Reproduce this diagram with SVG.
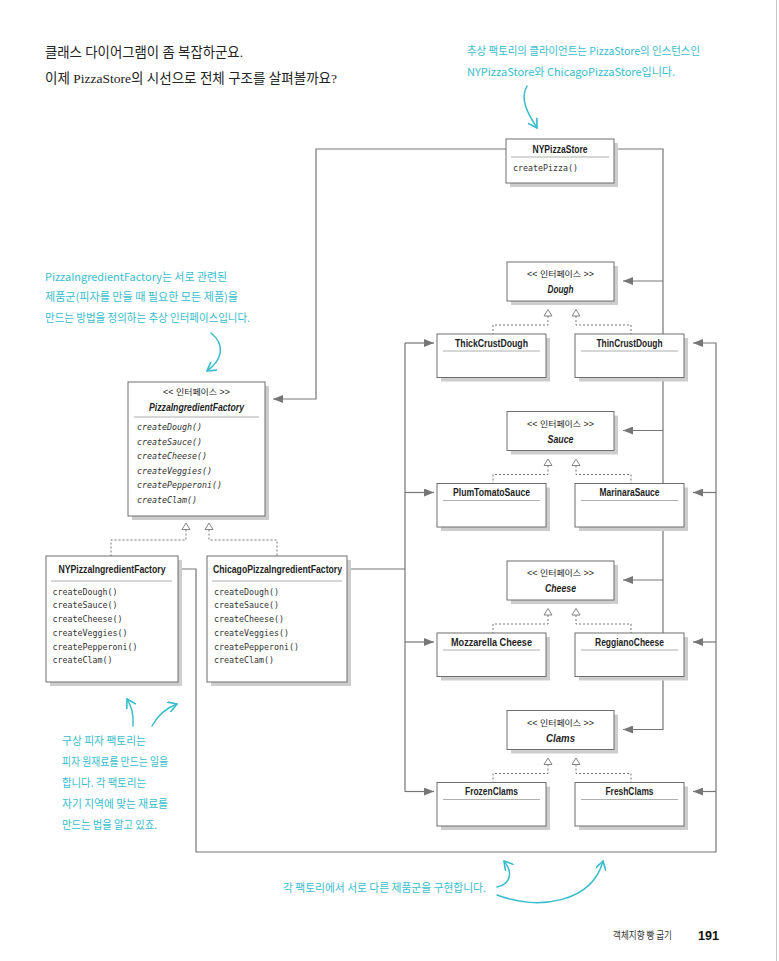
<svg xmlns="http://www.w3.org/2000/svg" xmlns:xlink="http://www.w3.org/1999/xlink" width="779" height="961" viewBox="0 0 779 961">
<style>
.box{fill:#fff;stroke:#6e6e6e;stroke-width:1}
.shadow{fill:#cdcdcd}
.sep{stroke:#9a9a9a;stroke-width:0.8}
.title{font-family:"Liberation Sans",Arial,sans-serif;font-weight:bold;font-size:10px;text-anchor:middle;fill:#1e1e1e}
.stereo{font-family:"Liberation Sans","Noto Sans CJK KR",sans-serif;font-size:8.5px;text-anchor:middle;fill:#222}
.iname{font-family:"Liberation Sans",Arial,sans-serif;font-weight:bold;font-style:italic;font-size:10px;text-anchor:middle;fill:#1e1e1e}
.mono{font-family:"DejaVu Sans Mono","Liberation Mono",monospace;font-size:8.3px;fill:#333}
.it{font-style:italic}
.conn{stroke:#767676;fill:none;stroke-width:1.2}
.dash{stroke:#6a6a6a;fill:none;stroke-width:0.9;stroke-dasharray:2 2}
.tri{fill:#fff;stroke:#777;stroke-width:0.9}
.hand{font-family:"Noto Sans CJK KR",sans-serif;font-size:11px;fill:#38bdcd}
.harrow{stroke:#38bdcd;stroke-width:1.5;fill:none;stroke-linecap:round}
.head{font-family:"Liberation Serif","Noto Sans CJK KR",serif;font-size:13.5px;fill:#222}
</style>
<defs>
<marker id="arr" markerUnits="userSpaceOnUse" markerWidth="10" markerHeight="8" viewBox="0 0 10 8" refX="10" refY="4" orient="auto">
<path d="M0,0 L10,4 L0,8 Z" fill="#767676"/>
</marker>
<marker id="harr" markerUnits="userSpaceOnUse" markerWidth="11" markerHeight="11" viewBox="0 0 10 10" refX="8.5" refY="5" orient="auto">
<path d="M1,0.5 L8.5,5 L1,9.5" fill="none" stroke="#38bdcd" stroke-width="1.5" stroke-linecap="round" stroke-linejoin="round"/>
</marker>
<path id="gtri" class="tri" d="M0,0 L4,6.5 L-4,6.5 Z"/>
</defs>
<rect width="779" height="961" fill="#fff"/>
<line x1="776.5" y1="0" x2="776.5" y2="961" stroke="#c8c8c8" stroke-width="1"/>

<!-- headings and notes -->
<g id="heading">
<text class="head" x="45" y="57" textLength="198" lengthAdjust="spacingAndGlyphs">클래스 다이어그램이 좀 복잡하군요.</text>
<text class="head" x="45" y="83" textLength="292" lengthAdjust="spacingAndGlyphs">이제 PizzaStore의 시선으로 전체 구조를 살펴볼까요?</text>
</g>
<g id="note-client">
<text class="hand" x="467" y="55" textLength="233" lengthAdjust="spacingAndGlyphs">추상 팩토리의 클라이언트는 PizzaStore의 인스턴스인</text>
<text class="hand" x="467" y="75.5" textLength="208" lengthAdjust="spacingAndGlyphs">NYPizzaStore와 ChicagoPizzaStore입니다.</text>
<path class="harrow" d="M527,86 C519,100 529,115 537,128" marker-end="url(#harr)"/>
</g>
<g id="note-abstract">
<text class="hand" x="45" y="280.5" textLength="182" lengthAdjust="spacingAndGlyphs">PizzaIngredientFactory는 서로 관련된</text>
<text class="hand" x="45" y="301" textLength="193" lengthAdjust="spacingAndGlyphs">제품군(피자를 만들 때 필요한 모든 제품)을</text>
<text class="hand" x="45" y="322" textLength="205" lengthAdjust="spacingAndGlyphs">만드는 방법을 정의하는 추상 인터페이스입니다.</text>
<path class="harrow" d="M211,333 C226,345 222,360 207,371" marker-end="url(#harr)"/>
</g>
<g id="note-concrete">
<text class="hand" x="62" y="745" textLength="84" lengthAdjust="spacingAndGlyphs">구상 피자 팩토리는</text>
<text class="hand" x="62" y="766" textLength="106" lengthAdjust="spacingAndGlyphs">피자 원재료를 만드는 일을</text>
<text class="hand" x="62" y="787" textLength="84" lengthAdjust="spacingAndGlyphs">합니다. 각 팩토리는</text>
<text class="hand" x="62" y="808" textLength="106" lengthAdjust="spacingAndGlyphs">자기 지역에 맞는 재료를</text>
<text class="hand" x="62" y="829" textLength="95" lengthAdjust="spacingAndGlyphs">만드는 법을 알고 있죠.</text>
<path class="harrow" d="M133,726 C134,713 131,706 127,699" marker-end="url(#harr)"/>
<path class="harrow" d="M152,726 C158,715 166,708 177,704" marker-end="url(#harr)"/>
</g>
<g id="note-families">
<text class="hand" x="283" y="892" textLength="203" lengthAdjust="spacingAndGlyphs">각 팩토리에서 서로 다른 제품군을 구현합니다.</text>
<path class="harrow" d="M497,887 C511,884 513,872 504,861" marker-end="url(#harr)"/>
<path class="harrow" d="M497,895 C540,911 592,902 603,861" marker-end="url(#harr)"/>
</g>
<g id="footer">
<text x="613" y="939" font-family="'Noto Sans CJK KR',sans-serif" font-size="10" fill="#333" textLength="59" lengthAdjust="spacingAndGlyphs">객체지향 빵 굽기</text>
<text x="698" y="940" font-family="'Liberation Sans',Arial,sans-serif" font-weight="bold" font-size="12.5" fill="#111" textLength="21" lengthAdjust="spacingAndGlyphs">191</text>
</g>

<!-- connectors -->
<g id="connectors">
<path class="conn" d="M506,149 H316 V399 H273" marker-end="url(#arr)"/>
<path class="conn" d="M614,149 H663 V729.5 H623" marker-end="url(#arr)"/>
<path class="conn" d="M663,281 H623" marker-end="url(#arr)"/>
<path class="conn" d="M663,430.5 H623" marker-end="url(#arr)"/>
<path class="conn" d="M663,580 H623" marker-end="url(#arr)"/>
<path class="conn" d="M351,569 H405"/>
<path class="conn" d="M405,343 V791.5"/>
<path class="conn" d="M405,343 H434" marker-end="url(#arr)"/>
<path class="conn" d="M405,492.5 H434" marker-end="url(#arr)"/>
<path class="conn" d="M405,642 H434" marker-end="url(#arr)"/>
<path class="conn" d="M405,791.5 H434" marker-end="url(#arr)"/>
<path class="conn" d="M178,569 H196 V852 H716 V343 H693" marker-end="url(#arr)"/>
<path class="conn" d="M716,492.5 H693" marker-end="url(#arr)"/>
<path class="conn" d="M716,642 H693" marker-end="url(#arr)"/>
<path class="conn" d="M716,791.5 H693" marker-end="url(#arr)"/>
<!-- generalizations -->
<path class="dash" d="M186,529.5 V540 H111 V556"/>
<path class="dash" d="M209,529.5 V540 H277 V556"/>
<use xlink:href="#gtri" x="186" y="523"/>
<use xlink:href="#gtri" x="209" y="523"/>
<path class="dash" d="M548,316 V325 H493 V334"/>
<path class="dash" d="M576,316 V325 H631 V334"/>
<use xlink:href="#gtri" x="548" y="309.5"/>
<use xlink:href="#gtri" x="576" y="309.5"/>
<path class="dash" d="M548,465.5 V474.5 H493 V483.5"/>
<path class="dash" d="M576,465.5 V474.5 H631 V483.5"/>
<use xlink:href="#gtri" x="548" y="459"/>
<use xlink:href="#gtri" x="576" y="459"/>
<path class="dash" d="M548,615 V624 H493 V633"/>
<path class="dash" d="M576,615 V624 H631 V633"/>
<use xlink:href="#gtri" x="548" y="608.5"/>
<use xlink:href="#gtri" x="576" y="608.5"/>
<path class="dash" d="M548,764.5 V773.5 H493 V782.5"/>
<path class="dash" d="M576,764.5 V773.5 H631 V782.5"/>
<use xlink:href="#gtri" x="548" y="758"/>
<use xlink:href="#gtri" x="576" y="758"/>
</g>

<!-- nodes -->
<g id="NYPizzaStore">
<rect class="shadow" x="510" y="143" width="108" height="44"/>
<rect class="box" x="506" y="139" width="108" height="44"/>
<text class="title" x="560" y="152.5" textLength="55" lengthAdjust="spacingAndGlyphs">NYPizzaStore</text>
<line class="sep" x1="511" y1="157" x2="609" y2="157"/>
<text class="mono" x="513" y="171">createPizza()</text>
</g>

<g id="PizzaIngredientFactory">
<rect class="shadow" x="132" y="386" width="137" height="134"/>
<rect class="box" x="128" y="382" width="137" height="134"/>
<text class="stereo" x="196.5" y="395" textLength="67" lengthAdjust="spacingAndGlyphs">&lt;&lt; 인터페이스 &gt;&gt;</text>
<text class="iname" x="196.5" y="411" textLength="95" lengthAdjust="spacingAndGlyphs">PizzaIngredientFactory</text>
<line class="sep" x1="134" y1="417" x2="259" y2="417"/>
<text class="mono it" x="137" y="430">createDough()</text>
<text class="mono it" x="137" y="444.5">createSauce()</text>
<text class="mono it" x="137" y="459">createCheese()</text>
<text class="mono it" x="137" y="473.5">createVeggies()</text>
<text class="mono it" x="137" y="488">createPepperoni()</text>
<text class="mono it" x="137" y="502.5">createClam()</text>
</g>

<g id="NYPizzaIngredientFactory">
<rect class="shadow" x="50" y="560" width="132" height="126"/>
<rect class="box" x="46" y="556" width="132" height="126"/>
<text class="title" x="112" y="573" textLength="107" lengthAdjust="spacingAndGlyphs">NYPizzaIngredientFactory</text>
<line class="sep" x1="51" y1="581" x2="172" y2="581"/>
<text class="mono" x="52.5" y="594.5">createDough()</text>
<text class="mono" x="52.5" y="608">createSauce()</text>
<text class="mono" x="52.5" y="622">createCheese()</text>
<text class="mono" x="52.5" y="635.5">createVeggies()</text>
<text class="mono" x="52.5" y="649.5">createPepperoni()</text>
<text class="mono" x="52.5" y="663">createClam()</text>
</g>

<g id="ChicagoPizzaIngredientFactory">
<rect class="shadow" x="211" y="560" width="140" height="126"/>
<rect class="box" x="207" y="556" width="140" height="126"/>
<text class="title" x="277.5" y="573" textLength="129" lengthAdjust="spacingAndGlyphs">ChicagoPizzaIngredientFactory</text>
<line class="sep" x1="212" y1="581" x2="342" y2="581"/>
<text class="mono" x="214" y="594.5">createDough()</text>
<text class="mono" x="214" y="608">createSauce()</text>
<text class="mono" x="214" y="622">createCheese()</text>
<text class="mono" x="214" y="635.5">createVeggies()</text>
<text class="mono" x="214" y="649.5">createPepperoni()</text>
<text class="mono" x="214" y="663">createClam()</text>
</g>

<!-- Dough -->
<g id="Dough">
<rect class="shadow" x="511" y="266" width="107" height="39"/>
<rect class="box" x="507" y="262" width="107" height="39"/>
<text class="stereo" x="560.5" y="277" textLength="67" lengthAdjust="spacingAndGlyphs">&lt;&lt; 인터페이스 &gt;&gt;</text>
<text class="iname" x="560.5" y="293" textLength="26" lengthAdjust="spacingAndGlyphs">Dough</text>
</g>
<g id="ThickCrustDough">
<rect class="shadow" x="441" y="338" width="109" height="43.5"/>
<rect class="box" x="437" y="334" width="109" height="43.5"/>
<text class="title" x="491.5" y="346.5" textLength="73" lengthAdjust="spacingAndGlyphs">ThickCrustDough</text>
<line class="sep" x1="443" y1="351" x2="540" y2="351"/>
</g>
<g id="ThinCrustDough">
<rect class="shadow" x="579" y="338" width="109" height="43.5"/>
<rect class="box" x="575" y="334" width="109" height="43.5"/>
<text class="title" x="629.5" y="346.5" textLength="66" lengthAdjust="spacingAndGlyphs">ThinCrustDough</text>
<line class="sep" x1="581" y1="351" x2="678" y2="351"/>
</g>

<!-- Sauce -->
<g id="Sauce">
<rect class="shadow" x="511" y="415.5" width="107" height="39"/>
<rect class="box" x="507" y="411.5" width="107" height="39"/>
<text class="stereo" x="560.5" y="426.5" textLength="67" lengthAdjust="spacingAndGlyphs">&lt;&lt; 인터페이스 &gt;&gt;</text>
<text class="iname" x="560.5" y="442.5" textLength="26" lengthAdjust="spacingAndGlyphs">Sauce</text>
</g>
<g id="PlumTomatoSauce">
<rect class="shadow" x="441" y="487.5" width="109" height="43.5"/>
<rect class="box" x="437" y="483.5" width="109" height="43.5"/>
<text class="title" x="491.5" y="496" textLength="77" lengthAdjust="spacingAndGlyphs">PlumTomatoSauce</text>
<line class="sep" x1="443" y1="500.5" x2="540" y2="500.5"/>
</g>
<g id="MarinaraSauce">
<rect class="shadow" x="579" y="487.5" width="109" height="43.5"/>
<rect class="box" x="575" y="483.5" width="109" height="43.5"/>
<text class="title" x="629.5" y="496" textLength="60" lengthAdjust="spacingAndGlyphs">MarinaraSauce</text>
<line class="sep" x1="581" y1="500.5" x2="678" y2="500.5"/>
</g>

<!-- Cheese -->
<g id="Cheese">
<rect class="shadow" x="511" y="565" width="107" height="39"/>
<rect class="box" x="507" y="561" width="107" height="39"/>
<text class="stereo" x="560.5" y="576" textLength="67" lengthAdjust="spacingAndGlyphs">&lt;&lt; 인터페이스 &gt;&gt;</text>
<text class="iname" x="560.5" y="592" textLength="31" lengthAdjust="spacingAndGlyphs">Cheese</text>
</g>
<g id="MozzarellaCheese">
<rect class="shadow" x="441" y="637" width="109" height="43.5"/>
<rect class="box" x="437" y="633" width="109" height="43.5"/>
<text class="title" x="491.5" y="645.5" textLength="81" lengthAdjust="spacingAndGlyphs">Mozzarella Cheese</text>
<line class="sep" x1="443" y1="650" x2="540" y2="650"/>
</g>
<g id="ReggianoCheese">
<rect class="shadow" x="579" y="637" width="109" height="43.5"/>
<rect class="box" x="575" y="633" width="109" height="43.5"/>
<text class="title" x="629.5" y="645.5" textLength="69" lengthAdjust="spacingAndGlyphs">ReggianoCheese</text>
<line class="sep" x1="581" y1="650" x2="678" y2="650"/>
</g>

<!-- Clams -->
<g id="Clams">
<rect class="shadow" x="511" y="714.5" width="107" height="39"/>
<rect class="box" x="507" y="710.5" width="107" height="39"/>
<text class="stereo" x="560.5" y="725.5" textLength="67" lengthAdjust="spacingAndGlyphs">&lt;&lt; 인터페이스 &gt;&gt;</text>
<text class="iname" x="560.5" y="741.5" textLength="29" lengthAdjust="spacingAndGlyphs">Clams</text>
</g>
<g id="FrozenClams">
<rect class="shadow" x="441" y="786.5" width="109" height="43.5"/>
<rect class="box" x="437" y="782.5" width="109" height="43.5"/>
<text class="title" x="491.5" y="795" textLength="53" lengthAdjust="spacingAndGlyphs">FrozenClams</text>
<line class="sep" x1="443" y1="799.5" x2="540" y2="799.5"/>
</g>
<g id="FreshClams">
<rect class="shadow" x="579" y="786.5" width="109" height="43.5"/>
<rect class="box" x="575" y="782.5" width="109" height="43.5"/>
<text class="title" x="629.5" y="795" textLength="48" lengthAdjust="spacingAndGlyphs">FreshClams</text>
<line class="sep" x1="581" y1="799.5" x2="678" y2="799.5"/>
</g>
</svg>
